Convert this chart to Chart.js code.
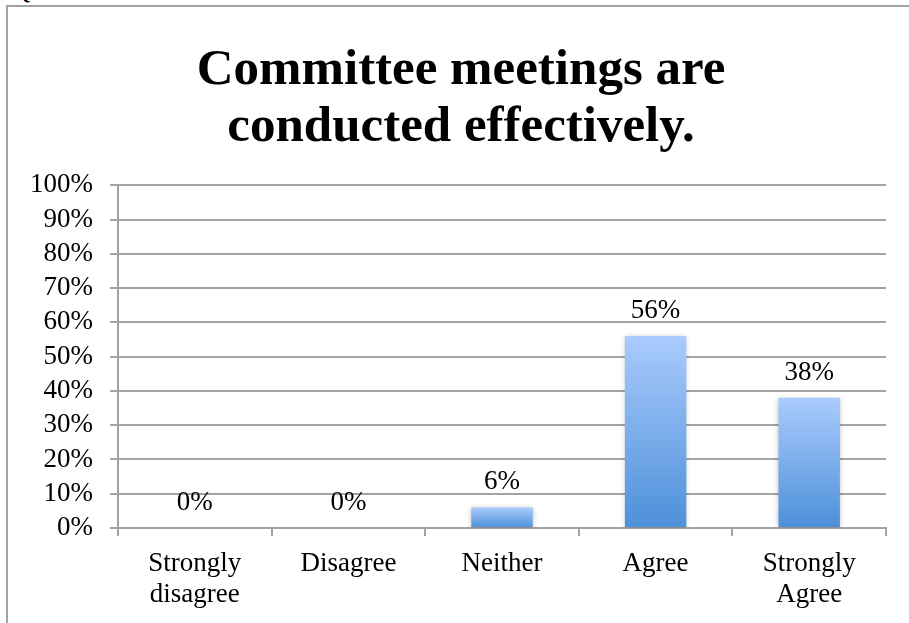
<!DOCTYPE html>
<html>
<head>
<meta charset="utf-8">
<script src="https://cdn.jsdelivr.net/npm/chart.js@4.4.1/dist/chart.umd.min.js"></script>
<style>
    html, body { margin: 0; padding: 0; background: #fff; overflow: hidden; }
    body { width: 909px; height: 623px; position: relative; }
    .frame {
        position: absolute; left: 6px; top: 5px; width: 1000px; height: 700px;
        border-left: 2px solid #a3a3a3; border-top: 2px solid #a3a3a3;
    }
    .q {
        position: absolute; left: 13px; top: -22px;
        font: 24px "Liberation Serif", serif; color: #000;
    }
    #chart { position: absolute; left: 8px; top: 7px; }
</style>
</head>
<body>
<div class="q">Q</div>
<div class="frame"></div>
<canvas id="chart" width="908" height="616"></canvas>
<script>
const titleLines = ['Committee meetings are', 'conducted effectively.'];
const categories = [['Strongly', 'disagree'], 'Disagree', 'Neither', 'Agree', ['Strongly', 'Agree']];
const percentages = [0, 0, 6, 56, 38];
const yTicks = [0, 10, 20, 30, 40, 50, 60, 70, 80, 90, 100];

const gridGray = '#a3a3a3';
const barTop = '#aacbfd';
const barBottom = '#4d90d9';
const serif = '"Liberation Serif", serif';
const tickFont = { family: serif, size: 27 };

// light-to-dark fill from the top of each bar down to its base
function barFill(context) {
    const chart = context.chart;
    if (!chart.chartArea || context.type !== 'data') {
        return barBottom;
    }
    const y = chart.scales.y;
    const top = y.getPixelForValue(context.parsed.y);
    const base = y.getPixelForValue(0);
    if (Math.abs(base - top) < 1) {
        return barBottom;
    }
    const g = chart.ctx.createLinearGradient(0, top, 0, base);
    g.addColorStop(0, barTop);
    g.addColorStop(1, barBottom);
    return g;
}

// the title is centred on the whole frame, which runs a little past the plot's right edge
const titleCentre = {
    id: 'titleCentre',
    afterLayout(chart) {
        if (chart.titleBlock) {
            chart.titleBlock.left = 28;
            chart.titleBlock.right = chart.chartArea.right;
        }
    }
};

// soft shadow under the bars, then the value above each one
const barLabels = {
    id: 'barLabels',
    beforeDatasetsDraw(chart) {
        const ctx = chart.ctx;
        ctx.save();
        ctx.shadowColor = 'rgba(0, 0, 0, 0.25)';
        ctx.shadowBlur = 5;
        ctx.shadowOffsetX = 0;
        ctx.shadowOffsetY = 1;
    },
    afterDatasetsDraw(chart) {
        const ctx = chart.ctx;
        ctx.restore();
        ctx.save();
        ctx.font = '27px ' + serif;
        ctx.fillStyle = '#000';
        ctx.textAlign = 'center';
        ctx.textBaseline = 'alphabetic';
        chart.getDatasetMeta(0).data.forEach((bar, i) => {
            ctx.fillText(percentages[i] + '%', bar.x, bar.y - 18);
        });
        ctx.restore();
    }
};

new Chart(document.getElementById('chart'), {
    type: 'bar',
    data: {
        labels: categories,
        datasets: [{
            data: percentages,
            backgroundColor: barFill,
            borderWidth: 0,
            barPercentage: 0.4,
            categoryPercentage: 1
        }]
    },
    options: {
        responsive: false,
        animation: false,
        devicePixelRatio: 1,
        layout: { padding: { left: 0, right: 30, top: 0, bottom: 0 } },
        plugins: {
            legend: { display: false },
            tooltip: { enabled: false },
            title: {
                display: true,
                text: titleLines,
                color: '#000',
                font: { family: serif, size: 51, weight: 'bold', lineHeight: 1.12 },
                padding: { top: 35, bottom: 29 }
            }
        },
        scales: {
            x: {
                offset: true,
                grid: {
                    offset: true,
                    drawOnChartArea: false,
                    drawTicks: true,
                    tickLength: 8,
                    color: gridGray,
                    lineWidth: 2
                },
                border: { display: true, color: gridGray, width: 2 },
                ticks: {
                    color: '#000',
                    font: Object.assign({ lineHeight: 1.15 }, tickFont),
                    padding: 12,
                    maxRotation: 0,
                    autoSkip: false
                },
                afterFit(scale) { scale.height = 95; }
            },
            y: {
                min: 0,
                max: 100,
                afterBuildTicks(scale) {
                    scale.ticks = yTicks.map(v => ({ value: v }));
                },
                grid: {
                    color: gridGray,
                    lineWidth: 2,
                    tickLength: 8
                },
                border: { display: true, color: gridGray, width: 2 },
                ticks: {
                    color: '#000',
                    font: tickFont,
                    padding: 17,
                    autoSkip: false,
                    callback: v => v + '%'
                },
                afterFit(scale) { scale.width = 110; }
            }
        }
    },
    plugins: [titleCentre, barLabels]
});
</script>
</body>
</html>
